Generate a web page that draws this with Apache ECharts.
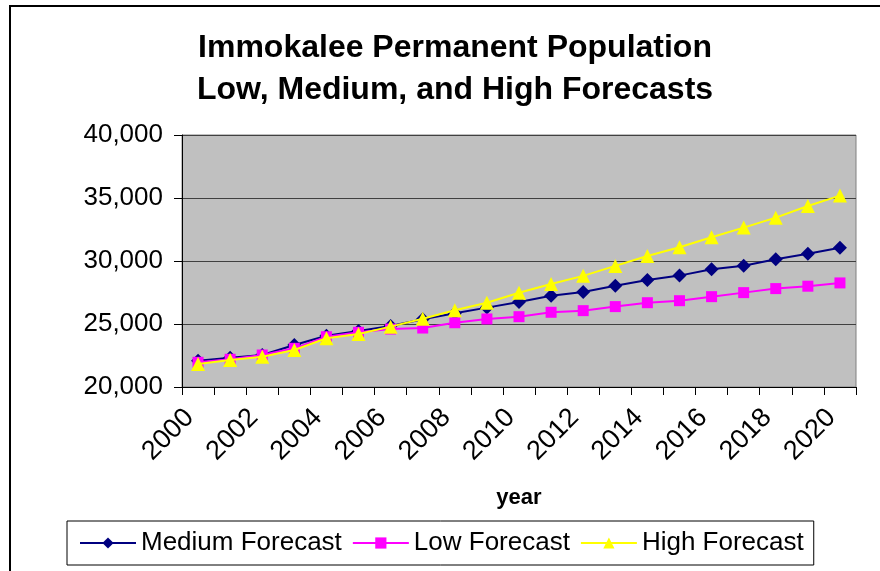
<!DOCTYPE html>
<html>
<head>
<meta charset="utf-8">
<script src="https://cdn.jsdelivr.net/npm/echarts@6/dist/echarts.min.js"></script>
<style>
	html, body { margin: 0; padding: 0; background: #fff; }
	#chart { width: 880px; height: 571px; }
</style>
</head>
<body>
<div id="chart"></div>
<script>
var years = ['2000', '2001', '2002', '2003', '2004', '2005', '2006', '2007', '2008', '2009', '2010',
	'2011', '2012', '2013', '2014', '2015', '2016', '2017', '2018', '2019', '2020'];
var mediumForecast = [22090, 22330, 22540, 23330, 24070, 24450, 24840, 25370, 25850, 26300, 26750,
	27250, 27540, 28040, 28500, 28840, 29340, 29630, 30140, 30580, 31060];
var lowForecast = [21960, 22200, 22540, 23070, 23990, 24340, 24600, 24680, 25100, 25400, 25580,
	25930, 26060, 26380, 26690, 26850, 27170, 27490, 27810, 28000, 28260];
var highForecast = [21830, 22140, 22400, 22940, 23870, 24210, 24790, 25420, 26090, 26690, 27480,
	28180, 28820, 29610, 30400, 31090, 31890, 32650, 33440, 34370, 35190];

var font = 'Arial, "Liberation Sans", sans-serif';

var chart = echarts.init(document.getElementById('chart'));
chart.setOption({
	animation: false,
	backgroundColor: '#ffffff',
	// 外框
	graphic: [{
		type: 'rect',
		shape: { x: 10, y: 6, width: 900, height: 600 },
		style: { fill: 'none', stroke: '#000', lineWidth: 2 },
		silent: true
	}],
	title: {
		text: 'Immokalee Permanent Population\nLow, Medium, and High Forecasts',
		left: 450,
		top: 22,
		textAlign: 'center',
		textStyle: {
			fontFamily: font,
			fontSize: 32,
			fontWeight: 'bold',
			color: '#000',
			lineHeight: 42
		}
	},
	grid: {
		left: 182,
		right: 24,
		top: 135,
		bottom: 184,
		show: true,
		backgroundColor: '#c0c0c0',
		borderColor: '#808080',
		borderWidth: 1
	},
	legend: {
		left: 67,
		top: 521,
		padding: [9, 10, 9, 12],
		borderColor: '#000',
		borderWidth: 1,
		itemWidth: 56,
		itemHeight: 14,
		itemGap: 10,
		textStyle: {
			fontFamily: font,
			fontSize: 26,
			color: '#000'
		},
		data: ['Medium Forecast', 'Low Forecast', 'High Forecast']
	},
	xAxis: {
		type: 'category',
		data: years,
		boundaryGap: true,
		name: 'year',
		nameLocation: 'middle',
		nameGap: 100,
		nameTextStyle: {
			fontFamily: font,
			fontSize: 22,
			fontWeight: 'bold',
			color: '#000'
		},
		axisLine: { lineStyle: { color: '#000', width: 1 } },
		axisTick: { show: true, interval: 0, length: 8, lineStyle: { color: '#000' } },
		axisLabel: {
			interval: 1,
			rotate: 45,
			margin: 18,
			padding: [0, 12, 0, 0],
			fontFamily: font,
			fontSize: 27,
			color: '#000'
		},
		splitLine: { show: false }
	},
	yAxis: {
		type: 'value',
		min: 20000,
		max: 40000,
		interval: 5000,
		axisLine: { show: true, lineStyle: { color: '#000', width: 1 } },
		axisTick: { show: true, length: 8, lineStyle: { color: '#000' } },
		axisLabel: {
			margin: 19,
			fontFamily: font,
			fontSize: 26,
			color: '#000',
			formatter: function(value) {
				return value.toString().replace(/\B(?=(\d{3})+(?!\d))/g, ',');
			}
		},
		splitLine: { show: true, lineStyle: { color: '#404040', width: 1 } }
	},
	series: [{
			name: 'Medium Forecast',
			type: 'line',
			data: mediumForecast,
			symbol: 'diamond',
			symbolSize: 14,
			z: 3,
			lineStyle: { color: '#000080', width: 2 },
			itemStyle: { color: '#000080' }
		},
		{
			name: 'Low Forecast',
			type: 'line',
			data: lowForecast,
			symbol: 'rect',
			symbolSize: 11,
			z: 4,
			lineStyle: { color: '#ff00ff', width: 2 },
			itemStyle: { color: '#ff00ff' }
		},
		{
			name: 'High Forecast',
			type: 'line',
			data: highForecast,
			symbol: 'triangle',
			symbolSize: 14,
			z: 5,
			lineStyle: { color: '#ffff00', width: 2 },
			itemStyle: { color: '#ffff00' }
		}
	]
});
</script>
</body>
</html>
